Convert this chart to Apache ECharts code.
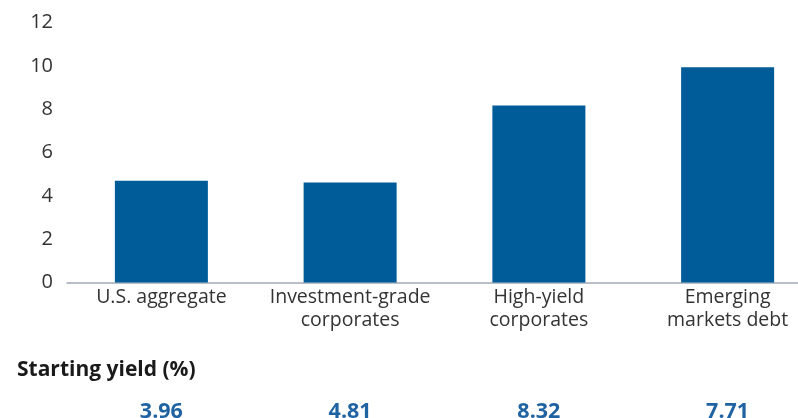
<!DOCTYPE html>
<html>
<head>
<meta charset="utf-8">
<style>
  html, body { margin: 0; padding: 0; background: #ffffff; overflow: hidden; }
  /* the plot area runs past the right edge of the window, so the canvas is wider */
  #chart { width: 822px; height: 418px; }
</style>
<script src="https://cdn.jsdelivr.net/npm/echarts@6/dist/echarts.min.js"></script>
</head>
<body>
<div id="chart"></div>
<script>
// Fixed income sectors
const categories = [
  'U.S. aggregate',
  'Investment-grade\ncorporates',
  'High-yield\ncorporates',
  'Emerging\nmarkets debt'
];
// Bar values (%)
const barValues = [4.7, 4.62, 8.17, 9.94];
// Starting yield (%) per sector
const startingYields = ['3.96', '4.81', '8.32', '7.71'];
// Y-axis ticks
const yMin = 0, yMax = 12, yStep = 2;

const FONT = '"Open Sans", Lato, sans-serif';
const chart = echarts.init(document.getElementById('chart'), null, { renderer: 'canvas' });

chart.setOption({
  animation: false,
  title: {
    text: 'Starting yield (%)',
    left: 17,
    top: 360,
    padding: 0,
    textStyle: { fontFamily: FONT, fontSize: 21, fontWeight: 'bold', color: '#1a1a1a' }
  },
  grid: {
    left: 67, right: 0, top: 22.5, bottom: 135.5,
    containLabel: false,
    outerBoundsMode: 'none'
  },
  xAxis: [
    {
      type: 'category',
      data: categories,
      axisLine: { lineStyle: { color: '#a3aab6', width: 1.5 } },
      axisTick: { show: false },
      axisLabel: {
        fontFamily: FONT, fontSize: 19.5, color: '#333333',
        margin: 3, lineHeight: 23.5, interval: 0
      }
    },
    {
      type: 'category',
      position: 'bottom',
      offset: 118,
      data: startingYields,
      axisLine: { show: false },
      axisTick: { show: false },
      axisLabel: {
        fontFamily: FONT, fontSize: 21.5, fontWeight: 'bold', color: '#1f63a3',
        margin: 0, interval: 0
      }
    }
  ],
  yAxis: {
    type: 'value',
    min: yMin, max: yMax, interval: yStep,
    splitLine: { show: false },
    axisLine: { show: false },
    axisTick: { show: false },
    axisLabel: {
      fontFamily: FONT, fontSize: 20, color: '#333333', margin: 14,
      padding: [3, 0, 0, 0]
    }
  },
  series: [{
    type: 'bar',
    data: barValues,
    xAxisIndex: 0,
    barWidth: 93,
    itemStyle: { color: '#005b99' }
  }]
});
</script>
</body>
</html>
